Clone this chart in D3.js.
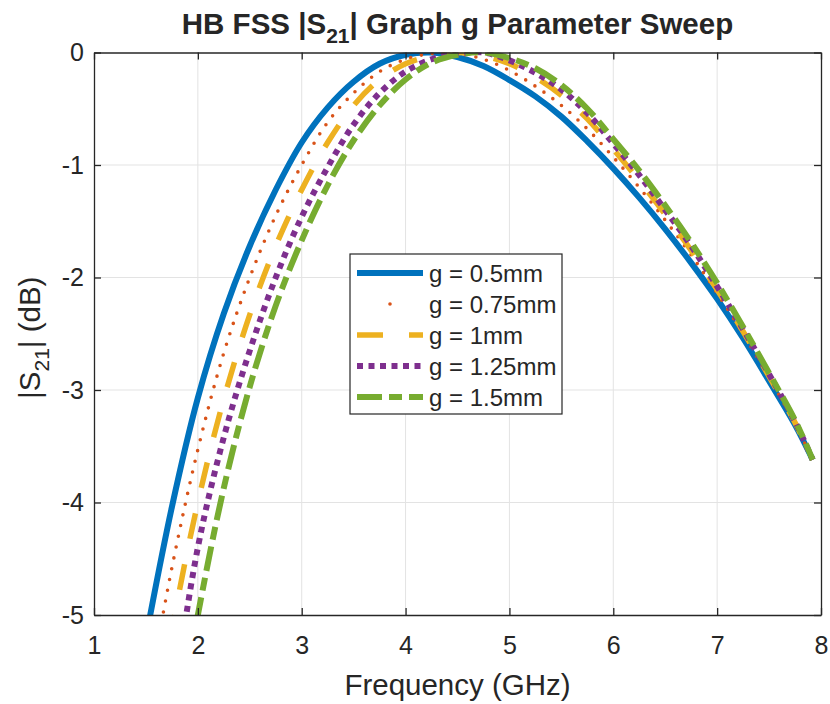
<!DOCTYPE html>
<html>
<head>
<meta charset="utf-8">
<script src="https://cdn.jsdelivr.net/npm/d3@7"></script>
<style>
  html, body { margin: 0; padding: 0; background: #ffffff; }
  svg { display: block; }
  text { font-family: "Liberation Sans", Arial, Helvetica, sans-serif; fill: #262626; }
</style>
</head>
<body>
<svg id="chart" width="830" height="704"></svg>
<script>
// ---- data ----
const freq = [1.5, 1.75, 2, 2.25, 2.5, 2.75, 3, 3.25, 3.5, 3.75, 4, 4.25, 4.5, 4.75, 5, 5.25, 5.5, 5.75, 6, 6.25, 6.5, 6.75, 7, 7.25, 7.5, 7.75, 7.92];
const g050 = [-5.2, -4.04, -3.07, -2.32, -1.72, -1.22, -0.8, -0.49, -0.26, -0.1, -0.02, 0, -0.04, -0.12, -0.245, -0.39, -0.57, -0.79, -1.03, -1.29, -1.57, -1.87, -2.19, -2.54, -2.92, -3.31, -3.62];
const g075 = [-5.84, -4.58, -3.53, -2.67, -2.0, -1.45, -1.0, -0.62, -0.36, -0.17, -0.06, -0.01, -0.01, -0.06, -0.16, -0.3, -0.47, -0.68, -0.93, -1.2, -1.49, -1.8, -2.14, -2.5, -2.89, -3.3, -3.62];
const g100 = [-6.6, -5.14, -4.0, -3.08, -2.33, -1.72, -1.22, -0.8, -0.47, -0.24, -0.1, -0.03, 0, -0.03, -0.1, -0.22, -0.38, -0.59, -0.86, -1.14, -1.44, -1.76, -2.11, -2.48, -2.88, -3.29, -3.62];
const g125 = [-7.4, -5.85, -4.4, -3.42, -2.65, -2.0, -1.46, -1.02, -0.64, -0.36, -0.17, -0.06, -0.01, 0, -0.07, -0.18, -0.33, -0.54, -0.81, -1.09, -1.4, -1.72, -2.08, -2.46, -2.86, -3.28, -3.62];
const g150 = [-7.8, -6.3, -5.0, -3.87, -2.97, -2.25, -1.67, -1.18, -0.78, -0.47, -0.24, -0.09, -0.02, 0, -0.05, -0.14, -0.29, -0.5, -0.77, -1.05, -1.36, -1.69, -2.05, -2.44, -2.85, -3.27, -3.62];
const seriesNames = ["g = 0.5mm", "g = 0.75mm", "g = 1mm", "g = 1.25mm", "g = 1.5mm"];
const xTicks = [1, 2, 3, 4, 5, 6, 7, 8];
const yTicks = [-5, -4, -3, -2, -1, 0];
const yTickLabels = ["-5", "-4", "-3", "-2", "-1", "0"];

// ---- styles ----
const styles = [
  { color: "#0072BD", width: 6,   dash: null,          cap: "butt" },
  { color: "#D95319", width: 3.6, dash: "0 11",        cap: "round" },
  { color: "#EDB120", width: 5.5, dash: "26 26",       cap: "butt" },
  { color: "#7E2F8E", width: 6,   dash: "6 5.5",       cap: "butt" },
  { color: "#77AC30", width: 6,   dash: "25 7 13 7",   cap: "butt" }
];
const seriesValues = [g050, g075, g100, g125, g150];
const series = seriesNames.map((name, i) => ({
  name, style: styles[i],
  points: freq.map((f, j) => ({ f, v: seriesValues[i][j] }))
}));

const W = 830, H = 704;
const margin = { left: 94, right: 9, top: 52.5, bottom: 89 };
const iw = W - margin.left - margin.right;
const ih = H - margin.top - margin.bottom;

const svg = d3.select("#chart");
const x = d3.scaleLinear().domain([1, 8]).range([margin.left, margin.left + iw]);
const y = d3.scaleLinear().domain([-5, 0]).range([margin.top + ih, margin.top]);

svg.append("rect").attr("x", 0).attr("y", 0).attr("width", W).attr("height", H).attr("fill", "#fff");

// grid
const grid = svg.append("g");
grid.selectAll(".gx").data(xTicks.slice(1, -1)).join("line")
  .attr("x1", d => x(d)).attr("x2", d => x(d))
  .attr("y1", margin.top).attr("y2", margin.top + ih)
  .attr("stroke", "#e3e3e3").attr("stroke-width", 1);
grid.selectAll(".gy").data(yTicks.slice(1, -1)).join("line")
  .attr("y1", d => y(d)).attr("y2", d => y(d))
  .attr("x1", margin.left).attr("x2", margin.left + iw)
  .attr("stroke", "#e3e3e3").attr("stroke-width", 1);

// clip
svg.append("clipPath").attr("id", "plotclip").append("rect")
  .attr("x", margin.left).attr("y", margin.top).attr("width", iw).attr("height", ih);

const line = d3.line().x(d => x(d.f)).y(d => y(d.v)).curve(d3.curveCatmullRom.alpha(0.5));
const lines = svg.append("g").attr("clip-path", "url(#plotclip)");
series.forEach(s => {
  lines.append("path")
    .attr("d", line(s.points))
    .attr("fill", "none")
    .attr("stroke", s.style.color)
    .attr("stroke-width", s.style.width)
    .attr("stroke-dasharray", s.style.dash)
    .attr("stroke-linecap", s.style.cap)
    .attr("stroke-linejoin", "round");
});

// axes box with inward ticks on all sides
const tickLen = 7;
const axisColor = "#262626";
const axB = svg.append("g").attr("transform", `translate(0,${margin.top + ih})`)
  .call(d3.axisBottom(x).tickValues(xTicks).tickSizeInner(-tickLen).tickSizeOuter(0).tickPadding(21).tickFormat(d3.format("d")));
const axT = svg.append("g").attr("transform", `translate(0,${margin.top})`)
  .call(d3.axisTop(x).tickValues(xTicks).tickSizeInner(-tickLen).tickSizeOuter(0).tickFormat(""));
const axL = svg.append("g").attr("transform", `translate(${margin.left},0)`)
  .call(d3.axisLeft(y).tickValues(yTicks).tickSizeInner(-tickLen).tickSizeOuter(0).tickPadding(10)
    .tickFormat(d => yTickLabels[yTicks.indexOf(d)]));
const axR = svg.append("g").attr("transform", `translate(${margin.left + iw},0)`)
  .call(d3.axisRight(y).tickValues(yTicks).tickSizeInner(-tickLen).tickSizeOuter(0).tickFormat(""));
[axB, axT, axL, axR].forEach(a => {
  a.select(".domain").attr("stroke", axisColor).attr("stroke-width", 1.3);
  a.selectAll(".tick line").attr("stroke", axisColor).attr("stroke-width", 1.3);
  a.selectAll(".tick text").attr("fill", axisColor).style("font-size", "25px")
    .style("font-family", "'Liberation Sans', Arial, sans-serif");
});

// title
const title = svg.append("text")
  .attr("x", margin.left + iw / 2).attr("y", 34)
  .attr("text-anchor", "middle")
  .style("font-size", "29.5px").style("font-weight", "bold").attr("fill", "#000");
title.append("tspan").text("HB FSS |S");
title.append("tspan").attr("dy", 9).style("font-size", "21px").text("21");
title.append("tspan").attr("dy", -9).text("| Graph g Parameter Sweep");

// x label
svg.append("text")
  .attr("x", margin.left + iw / 2).attr("y", 695)
  .attr("text-anchor", "middle")
  .style("font-size", "29.5px").attr("fill", axisColor)
  .text("Frequency (GHz)");

// y label
const yl = svg.append("text")
  .attr("transform", `translate(40,${margin.top + ih / 2 + 4}) rotate(-90)`)
  .attr("text-anchor", "middle")
  .style("font-size", "29.5px").attr("fill", axisColor);
yl.append("tspan").text("|S");
yl.append("tspan").attr("dy", 9).style("font-size", "21px").text("21");
yl.append("tspan").attr("dy", -9).text("| (dB)");

// legend
const lg = svg.append("g");
const lgX = 350, lgY = 254, lgW = 212, lgH = 160;
lg.append("rect").attr("x", lgX).attr("y", lgY).attr("width", lgW).attr("height", lgH)
  .attr("fill", "#fff").attr("stroke", axisColor).attr("stroke-width", 1.2);
const rowY = i => lgY + 19 + i * 31;
series.forEach((s, i) => {
  const yy = rowY(i);
  if (i === 1) {
    lg.append("circle").attr("cx", 390).attr("cy", yy).attr("r", 1.8).attr("fill", s.style.color);
  } else {
    lg.append("line").attr("x1", 357).attr("x2", 423).attr("y1", yy).attr("y2", yy)
      .attr("stroke", s.style.color).attr("stroke-width", s.style.width)
      .attr("stroke-dasharray", s.style.dash);
  }
  lg.append("text").attr("x", 429).attr("y", yy).attr("dy", "0.36em")
    .style("font-size", "24px").attr("fill", "#000").text(s.name);
});
</script>
</body>
</html>
